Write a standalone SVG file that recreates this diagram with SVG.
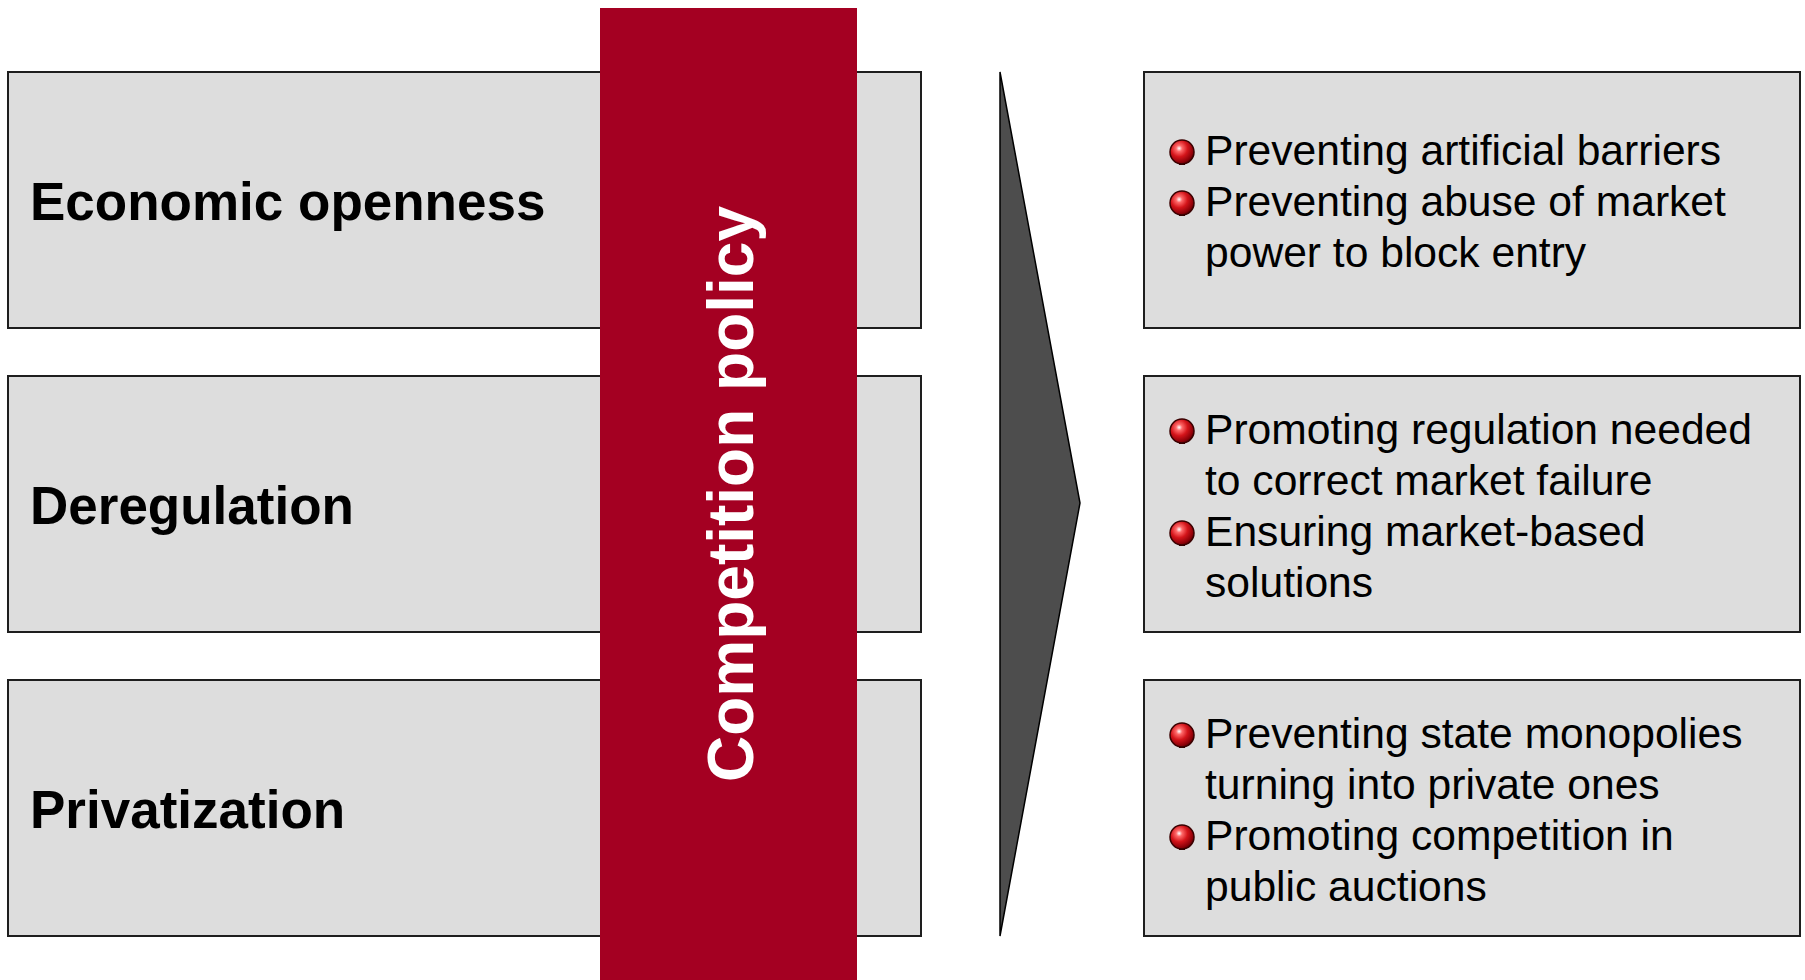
<svg xmlns="http://www.w3.org/2000/svg" width="1805" height="980" viewBox="0 0 1805 980">
  <style>
    .box { fill: #dddddd; stroke: #1e1e1e; stroke-width: 2; }
    .head { font-family: "Liberation Sans", Arial, sans-serif; font-weight: bold; font-size: 53px; fill: #000000; }
    .item { font-family: "Liberation Sans", Arial, sans-serif; font-size: 42.6px; fill: #000000; }
    .band { fill: #a40022; }
    .band-label { font-family: "Liberation Sans", Arial, sans-serif; font-weight: bold; font-size: 64px; fill: #ffffff; }
    .arrow { fill: #4d4d4d; stroke: #000000; stroke-width: 1.5; stroke-linejoin: miter; }
  </style>
  <defs>
    <radialGradient id="ballFill" cx="0.38" cy="0.35" r="0.7">
      <stop offset="0" stop-color="#ffffff"/>
      <stop offset="0.18" stop-color="#ff6a6a"/>
      <stop offset="0.5" stop-color="#d4141a"/>
      <stop offset="0.85" stop-color="#8a0008"/>
      <stop offset="1" stop-color="#4a0000"/>
    </radialGradient>
    <g id="bullet">
      <rect x="-3" y="8" width="6" height="5" fill="#2a0000"/>
      <circle r="12" fill="url(#ballFill)" stroke="#3a0000" stroke-width="1.5"/>
    </g>
  </defs>

  <rect width="1805" height="980" fill="#ffffff"/>

  <!-- left column: policy areas -->
  <g id="node-economic-openness">
    <rect class="box" x="8" y="72" width="913" height="256"/>
    <text class="head" x="30" y="220">Economic openness</text>
  </g>
  <g id="node-deregulation">
    <rect class="box" x="8" y="376" width="913" height="256"/>
    <text class="head" x="30" y="524">Deregulation</text>
  </g>
  <g id="node-privatization">
    <rect class="box" x="8" y="680" width="913" height="256"/>
    <text class="head" x="30" y="828">Privatization</text>
  </g>

  <!-- vertical band crossing the left column -->
  <g id="node-competition-policy">
    <rect class="band" x="600" y="8" width="257" height="972"/>
    <text class="band-label" transform="translate(753,494) rotate(-90)" text-anchor="middle">Competition policy</text>
  </g>

  <!-- pointer between the columns -->
  <g id="connectors">
    <polygon class="arrow" points="1000,72 1080,503 1000,936"/>
  </g>

  <!-- right column: objectives -->
  <g id="node-openness-goals">
    <rect class="box" x="1144" y="72" width="656" height="256"/>
    <use href="#bullet" x="1182" y="152"/>
    <text class="item" x="1205" y="165">Preventing artificial barriers</text>
    <use href="#bullet" x="1182" y="203"/>
    <text class="item" x="1205" y="216">Preventing abuse of market</text>
    <text class="item" x="1205" y="267">power to block entry</text>
  </g>
  <g id="node-deregulation-goals">
    <rect class="box" x="1144" y="376" width="656" height="256"/>
    <use href="#bullet" x="1182" y="431"/>
    <text class="item" x="1205" y="444">Promoting regulation needed</text>
    <text class="item" x="1205" y="495">to correct market failure</text>
    <use href="#bullet" x="1182" y="533"/>
    <text class="item" x="1205" y="546">Ensuring market-based</text>
    <text class="item" x="1205" y="597">solutions</text>
  </g>
  <g id="node-privatization-goals">
    <rect class="box" x="1144" y="680" width="656" height="256"/>
    <use href="#bullet" x="1182" y="735"/>
    <text class="item" x="1205" y="748">Preventing state monopolies</text>
    <text class="item" x="1205" y="799">turning into private ones</text>
    <use href="#bullet" x="1182" y="837"/>
    <text class="item" x="1205" y="850">Promoting competition in</text>
    <text class="item" x="1205" y="901">public auctions</text>
  </g>
</svg>
